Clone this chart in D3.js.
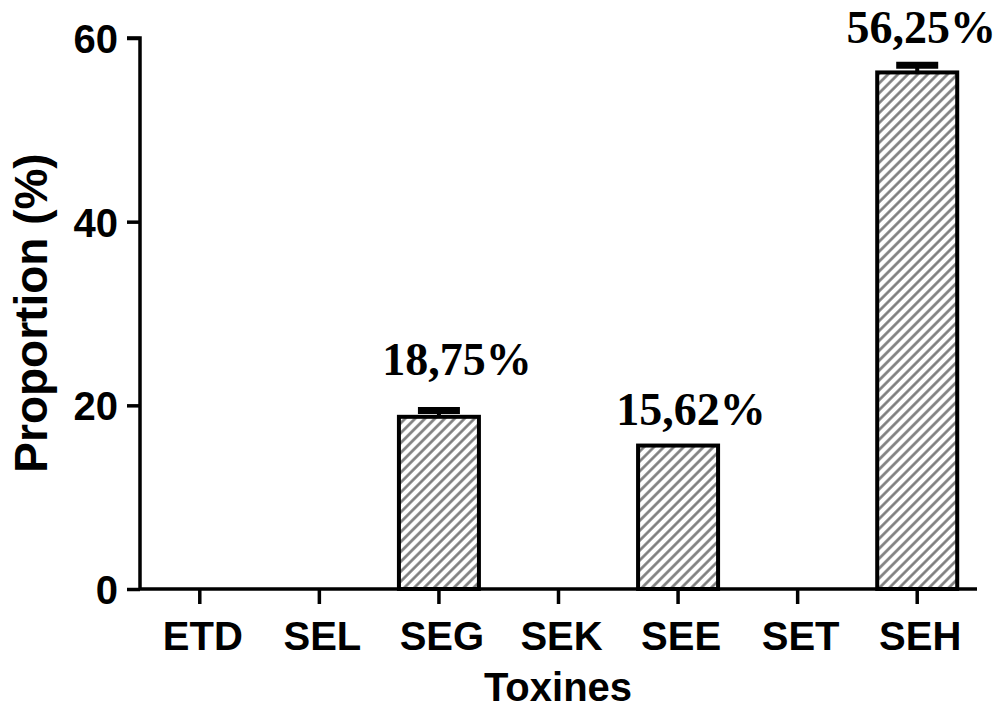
<!DOCTYPE html>
<html><head><meta charset="utf-8">
<script src="https://cdn.jsdelivr.net/npm/d3@7"></script>
<style>body{margin:0;background:#fff}svg{display:block}</style>
</head><body>
<script>
const categories = ["ETD","SEL","SEG","SEK","SEE","SET","SEH"];
const values = [0,0,18.75,0,15.62,0,56.25];
const errors = [0,0,0.8,0,0,0,0.9];
const labels = ["","","18,75%","","15,62%","","56,25%"];
const yTicks = [0,20,40,60];

const W=1003,H=711;
const svg=d3.select("body").append("svg").attr("width",W).attr("height",H);
const defs=svg.append("defs");
const pat=defs.append("pattern").attr("id","hatch").attr("patternUnits","userSpaceOnUse")
  .attr("width",7).attr("height",7).attr("patternTransform","rotate(45)");
pat.append("rect").attr("width",7).attr("height",7).attr("fill","#fff");
pat.append("line").attr("x1",1.5).attr("y1",0).attr("x2",1.5).attr("y2",7)
  .attr("stroke","#7a7a7a").attr("stroke-width",2.6);

const x=d3.scaleBand().domain(categories).range([140,977]).paddingInner(0.3).paddingOuter(0.15);
const y=d3.scaleLinear().domain([0,60]).range([589,38]);

// label placement tweaks (style, not data)
const labelDx={SEG:18,SEE:13,SEH:4};
const labelGap={SEG:34,SEE:21,SEH:21};

const bw=80;
const g=svg.append("g");
categories.forEach((c,i)=>{
  if(values[i]<=0) return;
  const cx=x(c)+x.bandwidth()/2;
  if(errors[i]>0){
    g.append("line").attr("x1",cx).attr("x2",cx).attr("y1",y(values[i])).attr("y2",y(values[i]+errors[i]))
      .attr("stroke","#000").attr("stroke-width",4);
    g.append("line").attr("x1",cx-21).attr("x2",cx+21).attr("y1",y(values[i]+errors[i])+1).attr("y2",y(values[i]+errors[i])+1)
      .attr("stroke","#000").attr("stroke-width",7);
  }
  g.append("rect").attr("x",cx-bw/2).attr("y",y(values[i])).attr("width",bw).attr("height",y(0)-y(values[i]))
    .attr("fill","url(#hatch)").attr("stroke","#000").attr("stroke-width",4);
});

// axes
const yAxis=d3.axisLeft(y).tickValues(yTicks).tickSize(13).tickPadding(9);
const ya=svg.append("g").attr("transform","translate(140,0)").call(yAxis);
const xAxis=d3.axisBottom(x).tickSize(15).tickPadding(18);
const xa=svg.append("g").attr("transform","translate(0,589)").call(xAxis);
[ya,xa].forEach(a=>{
  a.select(".domain").attr("stroke","#000").attr("stroke-width",3.5);
  a.selectAll(".tick line").attr("stroke","#000").attr("stroke-width",3.5);
  a.selectAll(".tick text").attr("fill","#000").attr("font-family","Liberation Sans, Arial, sans-serif")
    .attr("font-weight","bold").attr("font-size",40);
});
ya.select(".domain").attr("d","M0,589V38H-13");
xa.select(".domain").attr("d","M140,0H977");
ya.selectAll(".tick text").attr("dy","0.36em");
xa.selectAll(".tick text").attr("dx",3);

// value labels
categories.forEach((c,i)=>{
  if(!labels[i]) return;
  const cx=x(c)+x.bandwidth()/2+labelDx[c];
  svg.append("text").attr("x",cx).attr("y",y(values[i]+(errors[i]||0))-labelGap[c])
    .attr("text-anchor","middle").attr("font-family","Liberation Serif, Times New Roman, serif")
    .attr("font-weight","bold").attr("font-size",46).text(labels[i]);
});

svg.append("text").attr("x",558).attr("y",701).attr("text-anchor","middle")
  .attr("font-family","Liberation Sans, Arial, sans-serif").attr("font-weight","bold").attr("font-size",40).text("Toxines");
svg.append("text").attr("transform","translate(47,313) rotate(-90)").attr("text-anchor","middle")
  .attr("font-family","Liberation Sans, Arial, sans-serif").attr("font-weight","bold").attr("font-size",46).text("Proportion (%)");
</script>
</body></html>
